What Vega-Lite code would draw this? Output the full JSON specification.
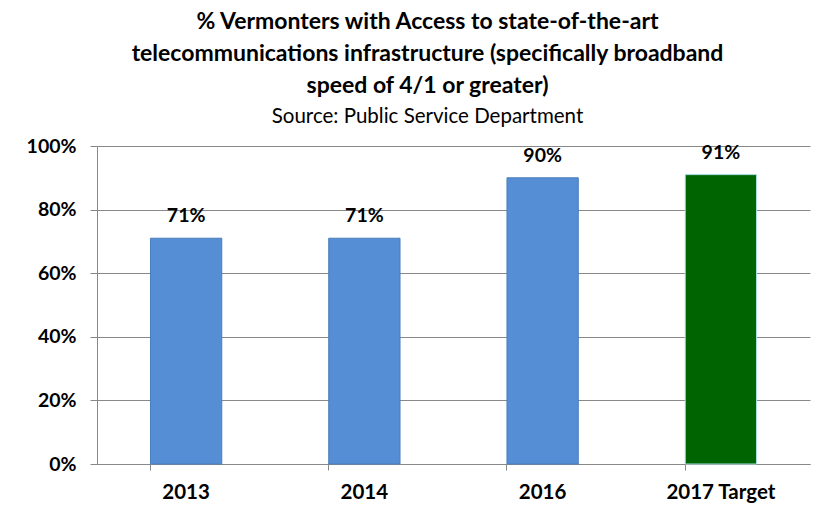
{
  "$schema": "https://vega.github.io/schema/vega-lite/v6.json",
  "width": 713,
  "height": 318,
  "autosize": {"type": "none"},
  "padding": {"left": 97, "top": 146, "right": 23, "bottom": 57},
  "background": "white",
  "title": {
    "text": ["% Vermonters with Access to state-of-the-art", "telecommunications infrastructure (specifically broadband", "speed of 4/1 or greater)"],
    "subtitle": "Source: Public Service Department",
    "anchor": "middle",
    "dx": -26,
    "font": "Lato",
    "fontSize": 23,
    "fontWeight": "bold",
    "color": "#000000",
    "lineHeight": 32,
    "subtitleFont": "Lato",
    "subtitleFontSize": 20.5,
    "subtitleColor": "#000000",
    "subtitlePadding": 9,
    "offset": 9
  },
  "data": {
    "values": [
      {"category": "2013", "value": 0.71, "type": "Actual"},
      {"category": "2014", "value": 0.71, "type": "Actual"},
      {"category": "2016", "value": 0.90, "type": "Actual"},
      {"category": "2017 Target", "value": 0.91, "type": "Target"}
    ]
  },
  "encoding": {
    "x": {
      "field": "category",
      "type": "nominal",
      "sort": null,
      "title": null,
      "scale": {"paddingInner": 0.6, "paddingOuter": 0.3},
      "axis": {
        "labelAngle": 0,
        "labelFont": "Lato",
        "labelFontSize": 20.5,
        "labelFontWeight": "bold",
        "labelColor": "#000000",
        "labelPadding": 12,
        "domainColor": "#888888",
        "tickColor": "#888888",
        "tickSize": 6,
        "bandPosition": 0,
        "grid": false
      }
    },
    "y": {
      "field": "value",
      "type": "quantitative",
      "title": null,
      "scale": {"domain": [0, 1]},
      "axis": {
        "format": ".0%",
        "values": [0, 0.2, 0.4, 0.6, 0.8, 1],
        "labelFont": "Lato",
        "labelFontSize": 19.5,
        "labelFontWeight": "bold",
        "labelColor": "#000000",
        "labelPadding": 14,
        "domainColor": "#888888",
        "tickColor": "#888888",
        "tickSize": 7,
        "grid": true,
        "gridColor": "#888888",
        "gridWidth": 1
      }
    }
  },
  "layer": [
    {
      "mark": {"type": "bar", "strokeWidth": 1},
      "encoding": {
        "color": {
          "field": "type",
          "type": "nominal",
          "scale": {"domain": ["Actual", "Target"], "range": ["#558ED5", "#006400"]},
          "legend": null
        },
        "stroke": {
          "field": "type",
          "type": "nominal",
          "scale": {"domain": ["Actual", "Target"], "range": ["#4A7EBB", "#A9E0E6"]},
          "legend": null
        }
      }
    },
    {
      "mark": {"type": "text", "baseline": "bottom", "dy": -12, "font": "Lato", "fontSize": 19.5, "fontWeight": "bold", "color": "#000000"},
      "encoding": {
        "text": {"field": "value", "type": "quantitative", "format": ".0%"}
      }
    }
  ],
  "config": {"view": {"stroke": null}}
}
